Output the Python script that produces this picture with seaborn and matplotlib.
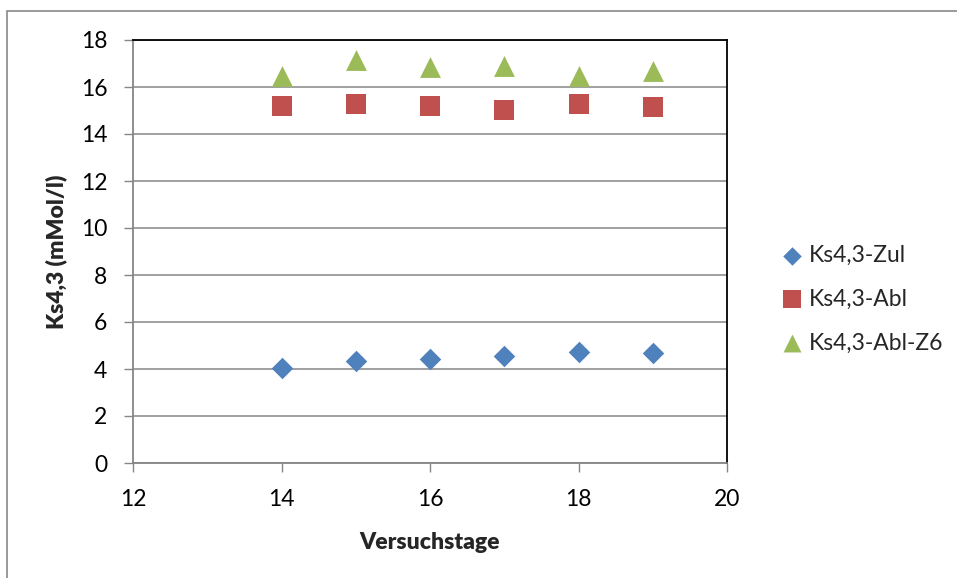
import matplotlib
matplotlib.use("Agg")
import matplotlib.pyplot as plt
import seaborn as sns
from matplotlib.patches import Rectangle

# ---- data ----
days = [14, 15, 16, 17, 18, 19]
ks_zul = [4.05, 4.33, 4.41, 4.55, 4.74, 4.68]
ks_abl = [15.21, 15.28, 15.21, 15.03, 15.28, 15.17]
ks_abl_z6 = [16.45, 17.17, 16.86, 16.89, 16.45, 16.67]
series_labels = ["Ks4,3-Zul", "Ks4,3-Abl", "Ks4,3-Abl-Z6"]
x_ticks = [12, 14, 16, 18, 20]
y_ticks = [0, 2, 4, 6, 8, 10, 12, 14, 16, 18]
x_label = "Versuchstage"
y_label = "Ks4,3 (mMol/l)"

sns.set_style("white")
plt.rcParams['font.family'] = ['Lato', 'DejaVu Sans']

W, H = 957, 578
fig = plt.figure(figsize=(W / 100, H / 100), dpi=100)
ax = fig.add_axes([133 / W, (H - 463) / H, (727 - 133) / W, (463 - 40) / H])

blue, red, green = "#4F81BD", "#C0504D", "#9BBB59"
sns.scatterplot(x=days, y=ks_zul, marker="D", s=120, color=blue, linewidth=0,
                ax=ax, label=series_labels[0], zorder=3)
sns.scatterplot(x=days, y=ks_abl, marker="s", s=225, color=red, linewidth=0,
                ax=ax, label=series_labels[1], zorder=3)
sns.scatterplot(x=days, y=ks_abl_z6, marker="^", s=225, color=green, linewidth=0,
                ax=ax, label=series_labels[2], zorder=3)

ax.set_xlim(12, 20)
ax.set_ylim(0, 18)
ax.set_xticks(x_ticks)
ax.set_yticks(y_ticks)
ax.yaxis.grid(True, color="#868686", linewidth=1.1)
ax.xaxis.grid(False)
ax.set_axisbelow(True)

for side in ["left", "bottom"]:
    ax.spines[side].set_color("#868686")
    ax.spines[side].set_linewidth(1.3)
    ax.spines[side].set_zorder(2.5)
for side in ["top", "right"]:
    ax.spines[side].set_color("black")
    ax.spines[side].set_linewidth(1.3)

ax.tick_params(axis="both", which="major", direction="out", length=6.5, width=1,
               color="#868686", labelsize=16.5, labelcolor="black")
ax.tick_params(axis="y", pad=12, left=True)
ax.tick_params(axis="x", pad=12, bottom=True)

ax.set_xlabel(x_label, fontsize=16.5, fontweight="heavy", labelpad=16)
ax.set_ylabel(y_label, fontsize=16.5, fontweight="heavy", labelpad=10)

leg = ax.legend(loc="center left", bbox_to_anchor=(781 / W, (H - 299) / H),
                bbox_transform=fig.transFigure, frameon=False, fontsize=16.5,
                borderpad=0, borderaxespad=0, handlelength=1.0,
                handletextpad=0.2, labelspacing=1.0, markerscale=0.86)

# outer chart border
fig.patches.append(Rectangle((7 / W, -0.1), 1.2, (H - 11) / H + 0.1,
                             transform=fig.transFigure, fill=False,
                             edgecolor="#898989", linewidth=1.2, clip_on=False))

fig.savefig("out.png", dpi=100)
